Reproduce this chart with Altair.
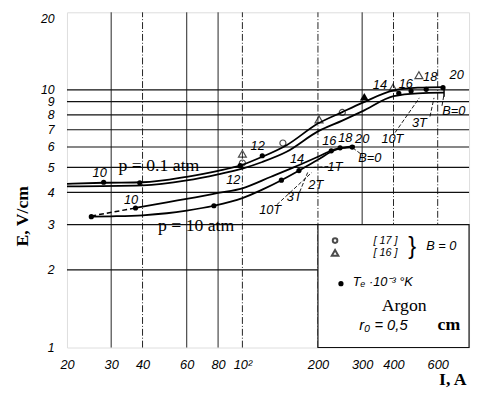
import altair as alt
import pandas as pd

# ---------------- data ----------------
x_ticks = [20, 30, 40, 60, 80, 100, 200, 300, 400, 600]
y_ticks = [1, 2, 3, 4, 5, 6, 7, 8, 9, 10, 20]
vgrid_solid = [30, 60, 80, 300]
vgrid_dash = [40, 100, 200, 400, 600]
hgrid = [2, 3, 4, 5, 6, 7, 8, 9, 10]

# p = 0.1 atm band
p01_hi_I = [20, 28, 40, 60, 80, 100, 120, 150, 200, 250, 300, 400, 500, 640]
p01_hi_E = [4.32, 4.36, 4.38, 4.6, 4.85, 5.12, 5.5, 6.1, 7.4, 8.2, 8.9, 9.95, 10.2, 10.25]
p01_lo_I = [20, 40, 60, 80, 100, 120, 150, 200, 250, 300, 400, 500, 636]
p01_lo_E = [4.22, 4.26, 4.45, 4.7, 4.95, 5.25, 5.75, 6.9, 7.6, 8.25, 9.45, 9.7, 9.75]

# p = 10 atm band
p10_hi_I = [37.5, 50, 65, 80, 100, 130, 160, 200, 230, 260, 280]
p10_hi_E = [3.48, 3.66, 3.83, 3.98, 4.15, 4.6, 5.0, 5.5, 5.85, 6.0, 6.05]
p10_lo_I = [25, 30, 40, 50, 60, 77, 100, 120, 143, 168, 200, 226, 250, 280]
p10_lo_E = [3.22, 3.23, 3.26, 3.32, 3.4, 3.55, 3.8, 4.1, 4.46, 4.86, 5.35, 5.75, 5.95, 6.0]
p10_dash_I = [25, 37.5]
p10_dash_E = [3.24, 3.48]

# Te dots
dot_I = [28, 39, 98, 120, 420, 470, 540, 630, 25, 37.5, 77, 143, 168, 226, 245, 274]
dot_E = [4.38, 4.36, 5.08, 5.55, 9.7, 9.9, 10.05, 10.2, 3.22, 3.48, 3.55, 4.46, 4.86, 5.8, 5.96, 6.0]

# Te labels
tl_text = ["10", "12", "12", "14", "16", "18", "20", "10", "14", "16", "18", "20"]
tl_I = [27, 92, 115, 353, 448, 560, 714, 36, 165, 222, 257, 300]
tl_E = [4.74, 4.46, 6.06, 10.45, 10.5, 11.2, 11.4, 3.73, 5.4, 6.34, 6.5, 6.45]

# magnetic field labels
bl_text = ["B=0", "3T", "10T", "B=0", "1T", "2T", "3T", "10T"]
bl_I = [695, 507, 396, 322, 234, 196, 161, 129]
bl_E = [8.25, 7.42, 6.44, 5.46, 5.0, 4.26, 3.84, 3.42]

# leader lines
ld_I1 = [406, 559, 624, 137, 169, 220, 275]
ld_E1 = [6.83, 7.88, 8.67, 3.58, 4.01, 5.04, 5.96]
ld_I2 = [507, 580, 636, 189, 182, 192, 303]
ld_E2 = [9.31, 9.31, 9.6, 4.78, 4.78, 5.0, 5.55]

# experimental points
circ_I = [100, 145, 250]
circ_E = [5.2, 6.22, 8.17]
tri_I = [100, 202, 398, 505]
tri_E = [5.65, 7.68, 10.2, 11.4]
ftri_I = [306]
ftri_E = [9.4]

# ---------------- chart ----------------
W, H = 409, 341
xs = alt.Scale(type="log", domain=[20, 800], nice=False)
ys = alt.Scale(type="log", domain=[1, 20], nice=False)

x_axis = alt.Axis(values=x_ticks, labelExpr="datum.value == 100 ? '10²' : format(datum.value, 'd')",
                  ticks=False, domain=False, grid=False, labelFont="Liberation Sans",
                  labelFontStyle="italic", labelFontSize=13, labelColor="black", labelPadding=11,
                  labelFlush=False, labelOverlap=False, title="I, A", titleFont="Liberation Serif",
                  titleFontWeight="bold", titleFontSize=18, titleColor="black",
                  titleX=392, titleY=33, titleAlign="center", titleBaseline="middle")
y_axis = alt.Axis(values=y_ticks, ticks=False, domain=False, grid=False, labelFont="Liberation Sans",
                  labelFontStyle="italic", labelFontSize=12.5, labelColor="black", labelPadding=13,
                  labelBaseline={"condition": {"test": "datum.value == 20", "value": "top"}, "value": "middle"},
                  labelFlush=False, labelOverlap=False, title="E, V/cm", titleFont="Liberation Serif",
                  titleFontWeight="bold", titleFontSize=18, titleColor="black",
                  titleX=-45, titleY=207, titleAlign="center", titleBaseline="middle", titleAngle=-90)


def X(f="I"):
    return alt.X(f"{f}:Q", scale=xs, axis=x_axis)


def Y(f="E"):
    return alt.Y(f"{f}:Q", scale=ys, axis=y_axis)


vs = pd.DataFrame({"I": vgrid_solid, "E": 1, "E2": 20})
vd = pd.DataFrame({"I": vgrid_dash, "E": 1, "E2": 20})
hg = pd.DataFrame({"E": hgrid, "I": 20, "I2": 800})

grid_v1 = alt.Chart(vs).mark_rule(color="#222", strokeWidth=1).encode(x=X(), y=Y(), y2="E2:Q")
grid_v2 = alt.Chart(vd).mark_rule(color="#222", strokeWidth=1, strokeDash=[7, 2, 1, 2]).encode(x=X(), y=Y(), y2="E2:Q")
grid_h = alt.Chart(hg).mark_rule(color="#111", strokeWidth=1.2).encode(y=Y(), x=X(), x2="I2:Q")

box = alt.Chart(pd.DataFrame({"I": [200], "I2": [800], "E": [1], "E2": [3.0]})).mark_rect(
    fill="white", stroke="#111", strokeWidth=1.2).encode(x=X(), x2="I2:Q", y=Y(), y2="E2:Q")


def curve(I, E, dash=None, w=1.8):
    kw = dict(color="black", strokeWidth=w, interpolate="monotone")
    if dash:
        kw["strokeDash"] = dash
    return alt.Chart(pd.DataFrame({"I": I, "E": E})).mark_line(**kw).encode(x=X(), y=Y())


c1 = curve(p01_hi_I, p01_hi_E)
c2 = curve(p01_lo_I, p01_lo_E)
c3 = curve(p10_hi_I, p10_hi_E)
c4 = curve(p10_lo_I, p10_lo_E)
c5 = curve(p10_dash_I, p10_dash_E, dash=[5, 3], w=1.5)

end_tick = alt.Chart(pd.DataFrame({"I": [636], "E": [9.4], "E2": [10.25]})).mark_rule(
    color="black", strokeWidth=1.5).encode(x=X(), y=Y(), y2="E2:Q")

leaders = alt.Chart(pd.DataFrame({"I": ld_I1, "E": ld_E1, "I2": ld_I2, "E2": ld_E2})).mark_rule(
    color="black", strokeWidth=0.9, strokeDash=[4, 2]).encode(x=X(), y=Y(), x2="I2:Q", y2="E2:Q")

dots = alt.Chart(pd.DataFrame({"I": dot_I, "E": dot_E})).mark_point(
    filled=True, color="black", size=28, shape="circle", opacity=1).encode(x=X(), y=Y())
circs = alt.Chart(pd.DataFrame({"I": circ_I, "E": circ_E})).mark_point(
    filled=False, color="black", size=38, shape="circle", strokeWidth=1.2).encode(x=X(), y=Y())
tris = alt.Chart(pd.DataFrame({"I": tri_I, "E": tri_E})).mark_point(
    filled=False, color="black", size=65, shape="triangle-up", strokeWidth=1.2).encode(x=X(), y=Y())
ftris = alt.Chart(pd.DataFrame({"I": ftri_I, "E": ftri_E})).mark_point(
    filled=True, color="black", size=80, shape="triangle-up", opacity=1).encode(x=X(), y=Y())

tlabels = alt.Chart(pd.DataFrame({"I": tl_I, "E": tl_E, "t": tl_text})).mark_text(
    font="Liberation Sans", fontStyle="italic", fontSize=13, color="black").encode(x=X(), y=Y(), text="t:N")
blabels = alt.Chart(pd.DataFrame({"I": bl_I, "E": bl_E, "t": bl_text})).mark_text(
    font="Liberation Sans", fontStyle="italic", fontSize=13, color="black").encode(x=X(), y=Y(), text="t:N")

# pressure labels
pl = alt.Chart(pd.DataFrame({"I": [46.5, 65.4], "E": [5.07, 2.95], "t": ["p = 0.1 atm", "p = 10 atm"]})).mark_text(
    font="Liberation Serif", fontSize=18, color="black").encode(x=X(), y=Y(), text="t:N")

# legend contents
lg_circ = alt.Chart(pd.DataFrame({"I": [234], "E": [2.6]})).mark_point(
    filled=False, color="black", size=22, shape="circle").encode(x=X(), y=Y())
lg_tri = alt.Chart(pd.DataFrame({"I": [234], "E": [2.33]})).mark_point(
    filled=False, color="black", size=45, shape="triangle-up").encode(x=X(), y=Y())
lg_dot = alt.Chart(pd.DataFrame({"I": [247], "E": [1.77]})).mark_point(
    filled=True, color="black", size=28, shape="circle", opacity=1).encode(x=X(), y=Y())
lg_ref = alt.Chart(pd.DataFrame({"I": [372, 372], "E": [2.6, 2.33], "t": ["[ 17 ]", "[ 16 ]"]})).mark_text(
    font="Liberation Sans", fontStyle="italic", fontSize=11, color="black").encode(x=X(), y=Y(), text="t:N")
lg_brace = alt.Chart(pd.DataFrame({"I": [475], "E": [2.46], "t": ["}"]})).mark_text(
    font="Liberation Sans", fontSize=24, color="black").encode(x=X(), y=Y(), text="t:N")
lg_b0 = alt.Chart(pd.DataFrame({"I": [620], "E": [2.47], "t": ["B = 0"]})).mark_text(
    font="Liberation Sans", fontStyle="italic", fontSize=13, color="black").encode(x=X(), y=Y(), text="t:N")
lg_te = alt.Chart(pd.DataFrame({"I": [275], "E": [1.79], "t": ["Tₑ ·10⁻³ °K"]})).mark_text(
    font="Liberation Sans", fontStyle="italic", fontSize=13, color="black", align="left").encode(x=X(), y=Y(), text="t:N")
lg_ar = alt.Chart(pd.DataFrame({"I": [441], "E": [1.447], "t": ["Argon"]})).mark_text(
    font="Liberation Serif", fontSize=18, color="black").encode(x=X(), y=Y(), text="t:N")
lg_r0 = alt.Chart(pd.DataFrame({"I": [292], "E": [1.225], "t": ["r₀   =   0,5"]})).mark_text(
    font="Liberation Sans", fontStyle="italic", fontSize=15, color="black", align="left").encode(x=X(), y=Y(), text="t:N")
lg_cm = alt.Chart(pd.DataFrame({"I": [665], "E": [1.225], "t": ["cm"]})).mark_text(
    font="Liberation Serif", fontWeight="bold", fontSize=18, color="black").encode(x=X(), y=Y(), text="t:N")

chart = alt.layer(
    grid_v1, grid_v2, grid_h, box,
    c1, c2, c3, c4, c5, end_tick, leaders,
    dots, circs, tris, ftris,
    tlabels, blabels, pl,
    lg_circ, lg_tri, lg_dot, lg_ref, lg_brace, lg_b0, lg_te, lg_ar, lg_r0, lg_cm,
).properties(
    width=W, height=H,
    autosize=alt.AutoSizeParams(type="none"),
    padding={"left": 60, "top": 1, "right": 3, "bottom": 50},
).configure_view(stroke="black", strokeWidth=1.6).configure(background="white")

chart.save("out.html", embed_options={"renderer": "svg", "actions": False})
